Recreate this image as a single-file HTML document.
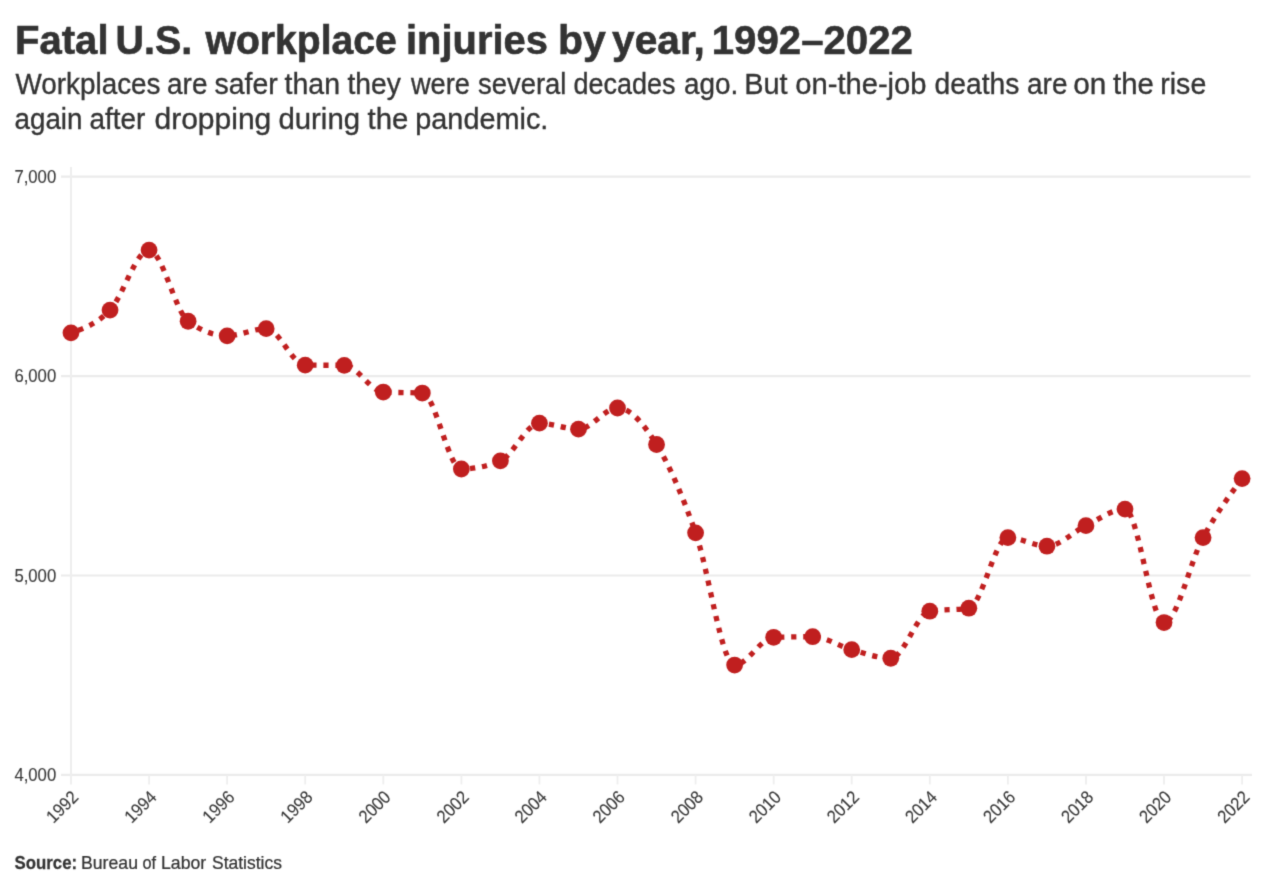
<!DOCTYPE html>
<html lang="en"><head><meta charset="utf-8"><title>Fatal U.S. workplace injuries by year, 1992–2022</title>
<style>
html,body{margin:0;padding:0;background:#fff;}
body{width:1280px;height:889px;overflow:hidden;font-family:"Liberation Sans", sans-serif;}
svg{display:block;will-change:transform;}
text{font-family:"Liberation Sans", sans-serif;}
.t{font-weight:700;font-size:40.6px;fill:#333;stroke:#333;stroke-width:0.6px;}
.s{font-size:29.3px;fill:#333;stroke:#333;stroke-width:0.35px;}
.ax{font-size:18px;fill:#383838;stroke:#383838;stroke-width:0.12px;}
.f{font-size:18px;fill:#333;stroke:#333;stroke-width:0.25px;}
</style></head><body>
<svg width="1280" height="889" viewBox="0 0 1280 889">
<defs><filter id="soft" x="0" y="0" width="100%" height="100%" color-interpolation-filters="sRGB"><feConvolveMatrix order="3" kernelMatrix="0.01918 0.10014 0.01918 0.10014 0.52273 0.10014 0.01918 0.10014 0.01918" divisor="1" edgeMode="duplicate" preserveAlpha="true"/></filter></defs>
<g filter="url(#soft)">
<rect width="1280" height="889" fill="#fff"/>
<g class="t">
<text transform="matrix(0.9869 0 0 1 15.03 54.4)">Fatal</text>
<text transform="matrix(0.9713 0 0 1 115.56 54.4)">U.S.</text>
<text transform="matrix(0.964 0 0 1 205.46 54.4)">workplace</text>
<text transform="matrix(0.9822 0 0 1 406.04 54.4)">injuries</text>
<text transform="matrix(1.0101 0 0 1 557.98 54.4)">by</text>
<text transform="matrix(1.0027 0 0 1 612.0 54.4)">year,</text>
<text transform="matrix(0.9898 0 0 1 711.77 54.4)">1992–2022</text>
</g>
<g class="s">
<text transform="matrix(0.9515 0 0 1 15.5 93.5)">Workplaces</text>
<text transform="matrix(0.9551 0 0 1 167.04 93.5)">are</text>
<text transform="matrix(0.9713 0 0 1 214.5 93.5)">safer</text>
<text transform="matrix(0.9735 0 0 1 284.5 93.5)">than</text>
<text transform="matrix(0.9645 0 0 1 347.5 93.5)">they</text>
<text transform="matrix(0.9295 0 0 1 410.93 93.5)">were</text>
<text transform="matrix(0.9362 0 0 1 478.0 93.5)">several</text>
<text transform="matrix(0.921 0 0 1 573.58 93.5)">decades</text>
<text transform="matrix(0.9512 0 0 1 684.05 93.5)">ago.</text>
<text transform="matrix(0.986 0 0 1 744.28 93.5)">But</text>
<text transform="matrix(0.9952 0 0 1 795.25 93.5)">on-the-job</text>
<text transform="matrix(0.9645 0 0 1 934.54 93.5)">deaths</text>
<text transform="matrix(0.9551 0 0 1 1027.04 93.5)">are</text>
<text transform="matrix(1.0151 0 0 1 1073.23 93.5)">on</text>
<text transform="matrix(1.0017 0 0 1 1113.0 93.5)">the</text>
<text transform="matrix(0.9741 0 0 1 1160.28 93.5)">rise</text>
</g>
<g class="s">
<text transform="matrix(0.9476 0 0 1 14.55 129.4)">again</text>
<text transform="matrix(0.9505 0 0 1 89.55 129.4)">after</text>
<text transform="matrix(1.0248 0 0 1 154.48 129.4)">dropping</text>
<text transform="matrix(1.0013 0 0 1 278.5 129.4)">during</text>
<text transform="matrix(1.0017 0 0 1 367.5 129.4)">the</text>
<text transform="matrix(0.9846 0 0 1 415.27 129.4)">pandemic.</text>
</g>
<g class="f" font-weight="700">
<text transform="matrix(0.9353 0 0 1 14.5 869.4)">Source:</text>
</g>
<g class="f">
<text transform="matrix(0.9816 0 0 1 81.02 869.4)">Bureau</text>
<text transform="matrix(0.9056 0 0 1 142.5 869.4)">of</text>
<text transform="matrix(0.9824 0 0 1 161.02 869.4)">Labor</text>
<text transform="matrix(0.972 0 0 1 212.0 869.4)">Statistics</text>
</g>
<line x1="61" x2="1250.5" y1="176.7" y2="176.7" stroke="#ebebeb" stroke-width="2.2"/>
<text class="ax" x="56.2" y="182.9" text-anchor="end" textLength="41.8" lengthAdjust="spacingAndGlyphs">7,000</text>
<line x1="61" x2="1250.5" y1="376.1" y2="376.1" stroke="#ebebeb" stroke-width="2.2"/>
<text class="ax" x="56.2" y="382.3" text-anchor="end" textLength="41.8" lengthAdjust="spacingAndGlyphs">6,000</text>
<line x1="61" x2="1250.5" y1="575.5" y2="575.5" stroke="#ebebeb" stroke-width="2.2"/>
<text class="ax" x="56.2" y="581.7" text-anchor="end" textLength="41.8" lengthAdjust="spacingAndGlyphs">5,000</text>
<line x1="61" x2="1252" y1="774.9" y2="774.9" stroke="#ebebeb" stroke-width="2.2"/>
<text class="ax" x="56.2" y="781.1" text-anchor="end" textLength="41.8" lengthAdjust="spacingAndGlyphs">4,000</text>
<line x1="71" x2="71" y1="167" y2="775.7" stroke="#eeeeee" stroke-width="2"/>
<line x1="71.0" x2="71.0" y1="774.9" y2="784.4" stroke="#eeeeee" stroke-width="1.8"/>
<text class="ax" transform="translate(79.5,798.2) rotate(-45)" text-anchor="end" textLength="36.6" lengthAdjust="spacingAndGlyphs">1992</text>
<line x1="149.1" x2="149.1" y1="774.9" y2="784.4" stroke="#eeeeee" stroke-width="1.8"/>
<text class="ax" transform="translate(157.6,798.2) rotate(-45)" text-anchor="end" textLength="36.6" lengthAdjust="spacingAndGlyphs">1994</text>
<line x1="227.1" x2="227.1" y1="774.9" y2="784.4" stroke="#eeeeee" stroke-width="1.8"/>
<text class="ax" transform="translate(235.6,798.2) rotate(-45)" text-anchor="end" textLength="36.6" lengthAdjust="spacingAndGlyphs">1996</text>
<line x1="305.2" x2="305.2" y1="774.9" y2="784.4" stroke="#eeeeee" stroke-width="1.8"/>
<text class="ax" transform="translate(313.7,798.2) rotate(-45)" text-anchor="end" textLength="36.6" lengthAdjust="spacingAndGlyphs">1998</text>
<line x1="383.3" x2="383.3" y1="774.9" y2="784.4" stroke="#eeeeee" stroke-width="1.8"/>
<text class="ax" transform="translate(391.8,798.2) rotate(-45)" text-anchor="end" textLength="36.6" lengthAdjust="spacingAndGlyphs">2000</text>
<line x1="461.4" x2="461.4" y1="774.9" y2="784.4" stroke="#eeeeee" stroke-width="1.8"/>
<text class="ax" transform="translate(469.9,798.2) rotate(-45)" text-anchor="end" textLength="36.6" lengthAdjust="spacingAndGlyphs">2002</text>
<line x1="539.4" x2="539.4" y1="774.9" y2="784.4" stroke="#eeeeee" stroke-width="1.8"/>
<text class="ax" transform="translate(547.9,798.2) rotate(-45)" text-anchor="end" textLength="36.6" lengthAdjust="spacingAndGlyphs">2004</text>
<line x1="617.5" x2="617.5" y1="774.9" y2="784.4" stroke="#eeeeee" stroke-width="1.8"/>
<text class="ax" transform="translate(626.0,798.2) rotate(-45)" text-anchor="end" textLength="36.6" lengthAdjust="spacingAndGlyphs">2006</text>
<line x1="695.6" x2="695.6" y1="774.9" y2="784.4" stroke="#eeeeee" stroke-width="1.8"/>
<text class="ax" transform="translate(704.1,798.2) rotate(-45)" text-anchor="end" textLength="36.6" lengthAdjust="spacingAndGlyphs">2008</text>
<line x1="773.7" x2="773.7" y1="774.9" y2="784.4" stroke="#eeeeee" stroke-width="1.8"/>
<text class="ax" transform="translate(782.2,798.2) rotate(-45)" text-anchor="end" textLength="36.6" lengthAdjust="spacingAndGlyphs">2010</text>
<line x1="851.7" x2="851.7" y1="774.9" y2="784.4" stroke="#eeeeee" stroke-width="1.8"/>
<text class="ax" transform="translate(860.2,798.2) rotate(-45)" text-anchor="end" textLength="36.6" lengthAdjust="spacingAndGlyphs">2012</text>
<line x1="929.8" x2="929.8" y1="774.9" y2="784.4" stroke="#eeeeee" stroke-width="1.8"/>
<text class="ax" transform="translate(938.3,798.2) rotate(-45)" text-anchor="end" textLength="36.6" lengthAdjust="spacingAndGlyphs">2014</text>
<line x1="1007.9" x2="1007.9" y1="774.9" y2="784.4" stroke="#eeeeee" stroke-width="1.8"/>
<text class="ax" transform="translate(1016.4,798.2) rotate(-45)" text-anchor="end" textLength="36.6" lengthAdjust="spacingAndGlyphs">2016</text>
<line x1="1086.0" x2="1086.0" y1="774.9" y2="784.4" stroke="#eeeeee" stroke-width="1.8"/>
<text class="ax" transform="translate(1094.5,798.2) rotate(-45)" text-anchor="end" textLength="36.6" lengthAdjust="spacingAndGlyphs">2018</text>
<line x1="1164.0" x2="1164.0" y1="774.9" y2="784.4" stroke="#eeeeee" stroke-width="1.8"/>
<text class="ax" transform="translate(1172.5,798.2) rotate(-45)" text-anchor="end" textLength="36.6" lengthAdjust="spacingAndGlyphs">2020</text>
<line x1="1242.1" x2="1242.1" y1="774.9" y2="784.4" stroke="#eeeeee" stroke-width="1.8"/>
<text class="ax" transform="translate(1250.6,798.2) rotate(-45)" text-anchor="end" textLength="36.6" lengthAdjust="spacingAndGlyphs">2022</text>
<path d="M71.00,332.83C84.01,328.36,97.02,323.89,110.04,310.10C123.05,296.31,136.06,250.08,149.07,250.08C162.09,250.08,175.10,311.56,188.11,321.26C201.12,330.97,214.13,335.82,227.15,335.82C240.16,335.82,253.17,328.64,266.18,328.64C279.20,328.64,292.21,365.00,305.22,365.13C318.23,365.27,331.24,365.20,344.26,365.33C357.27,365.47,370.28,391.39,383.29,392.05C396.31,392.72,409.32,392.38,422.33,393.05C435.34,393.71,448.35,469.02,461.37,469.02C474.38,469.02,487.39,466.30,500.40,460.84C513.42,455.39,526.43,423.16,539.44,423.16C552.45,423.16,565.46,429.14,578.48,429.14C591.49,429.14,604.50,408.00,617.51,408.00C630.53,408.00,643.54,423.69,656.55,444.49C669.56,465.30,682.57,496.07,695.59,532.83C708.60,569.58,721.61,665.03,734.62,665.03C747.64,665.03,760.65,637.71,773.66,637.31C786.67,636.92,799.68,636.72,812.70,636.72C825.71,636.72,838.72,646.09,851.73,649.68C864.75,653.27,877.76,658.25,890.77,658.25C903.78,658.25,916.79,613.19,929.81,611.19C942.82,609.20,955.83,610.20,968.84,608.20C981.86,606.21,994.87,537.61,1007.88,537.61C1020.89,537.61,1033.90,546.19,1046.92,546.19C1059.93,546.19,1072.94,531.83,1085.95,525.65C1098.97,519.47,1111.98,509.10,1124.99,509.10C1138.00,509.10,1151.01,622.56,1164.03,622.56C1177.04,622.56,1190.05,561.61,1203.06,537.61C1216.08,513.62,1229.09,496.11,1242.10,478.59" fill="none" stroke="#c01f1f" stroke-width="5.3" stroke-dasharray="5.2 6.826" stroke-dashoffset="4.2"/>
<circle cx="71.00" cy="332.83" r="8.4" fill="#c01f1f"/>
<circle cx="110.04" cy="310.10" r="8.4" fill="#c01f1f"/>
<circle cx="149.07" cy="250.08" r="8.4" fill="#c01f1f"/>
<circle cx="188.11" cy="321.26" r="8.4" fill="#c01f1f"/>
<circle cx="227.15" cy="335.82" r="8.4" fill="#c01f1f"/>
<circle cx="266.18" cy="328.64" r="8.4" fill="#c01f1f"/>
<circle cx="305.22" cy="365.13" r="8.4" fill="#c01f1f"/>
<circle cx="344.26" cy="365.33" r="8.4" fill="#c01f1f"/>
<circle cx="383.29" cy="392.05" r="8.4" fill="#c01f1f"/>
<circle cx="422.33" cy="393.05" r="8.4" fill="#c01f1f"/>
<circle cx="461.37" cy="469.02" r="8.4" fill="#c01f1f"/>
<circle cx="500.40" cy="460.84" r="8.4" fill="#c01f1f"/>
<circle cx="539.44" cy="423.16" r="8.4" fill="#c01f1f"/>
<circle cx="578.48" cy="429.14" r="8.4" fill="#c01f1f"/>
<circle cx="617.51" cy="408.00" r="8.4" fill="#c01f1f"/>
<circle cx="656.55" cy="444.49" r="8.4" fill="#c01f1f"/>
<circle cx="695.59" cy="532.83" r="8.4" fill="#c01f1f"/>
<circle cx="734.62" cy="665.03" r="8.4" fill="#c01f1f"/>
<circle cx="773.66" cy="637.31" r="8.4" fill="#c01f1f"/>
<circle cx="812.70" cy="636.72" r="8.4" fill="#c01f1f"/>
<circle cx="851.73" cy="649.68" r="8.4" fill="#c01f1f"/>
<circle cx="890.77" cy="658.25" r="8.4" fill="#c01f1f"/>
<circle cx="929.81" cy="611.19" r="8.4" fill="#c01f1f"/>
<circle cx="968.84" cy="608.20" r="8.4" fill="#c01f1f"/>
<circle cx="1007.88" cy="537.61" r="8.4" fill="#c01f1f"/>
<circle cx="1046.92" cy="546.19" r="8.4" fill="#c01f1f"/>
<circle cx="1085.95" cy="525.65" r="8.4" fill="#c01f1f"/>
<circle cx="1124.99" cy="509.10" r="8.4" fill="#c01f1f"/>
<circle cx="1164.03" cy="622.56" r="8.4" fill="#c01f1f"/>
<circle cx="1203.06" cy="537.61" r="8.4" fill="#c01f1f"/>
<circle cx="1242.10" cy="478.59" r="8.4" fill="#c01f1f"/>
</g>
</svg></body></html>
